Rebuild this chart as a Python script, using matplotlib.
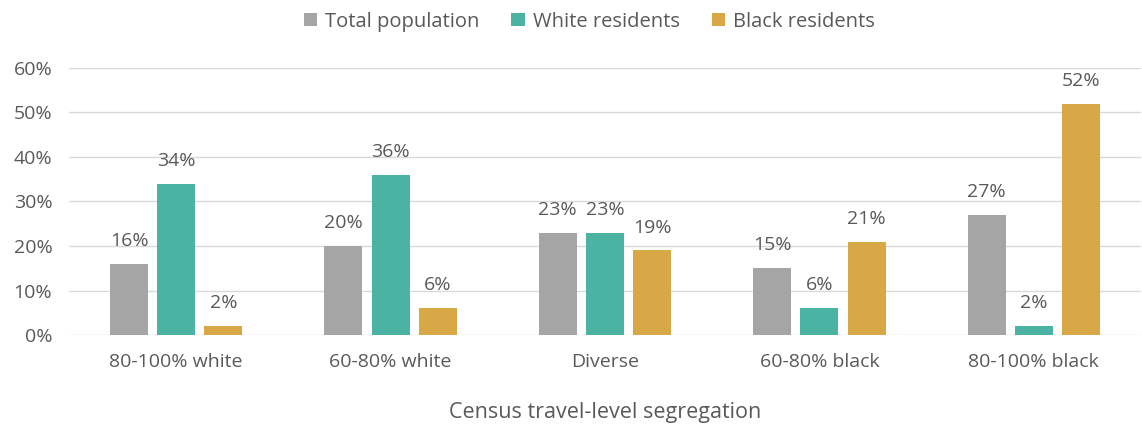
import matplotlib.pyplot as plt
import numpy as np

plt.rcParams["font.family"] = ["Open Sans", "DejaVu Sans"]

categories = ["80-100% white", "60-80% white", "Diverse", "60-80% black", "80-100% black"]
series_names = ["Total population", "White residents", "Black residents"]
total_pop = [16, 20, 23, 15, 27]
white_res = [34, 36, 23, 6, 2]
black_res = [2, 6, 19, 21, 52]
colors = ["#a5a5a5", "#4bb3a3", "#d8a847"]
text_color = "#595959"

fig = plt.figure(figsize=(11.42, 4.33), dpi=100)
ax = fig.add_axes([0.0604, 0.2263, 0.9387, 0.6167])

x = np.arange(len(categories))
width = 0.177
step = 0.22
for i, (vals, name, c) in enumerate(zip([total_pop, white_res, black_res], series_names, colors)):
    pos = x + (i - 1) * step
    ax.bar(pos, np.array(vals) / 100, width, color=c, label=name, zorder=3)
    for p, v in zip(pos, vals):
        ax.annotate(f"{v}%", (p, v / 100), xytext=(0, 10), textcoords="offset points",
                    ha="center", va="bottom", fontsize=14, color=text_color)

ax.set_xlim(-0.5, len(categories) - 0.5)
ax.set_ylim(0, 0.6)
ax.set_yticks(np.arange(0, 0.61, 0.1))
ax.set_yticklabels([f"{int(round(t * 100))}%" for t in np.arange(0, 0.61, 0.1)])
ax.set_xticks(x)
ax.set_xticklabels(categories)
ax.tick_params(axis="both", length=0, labelsize=14, labelcolor=text_color)
ax.tick_params(axis="x", pad=13)
ax.tick_params(axis="y", pad=12)
ax.grid(axis="y", color="#d9d9d9", linewidth=1, zorder=0)
for s in ax.spines.values():
    s.set_visible(False)

ax.set_xlabel("Census travel-level segregation", fontsize=15.5, color=text_color, labelpad=22)

fig.legend(loc="upper center", ncol=3, frameon=False, fontsize=14.5, bbox_to_anchor=(0.516, 1.015),
           handlelength=0.65, handleheight=0.65, handletextpad=0.4, columnspacing=1.6,
           labelcolor=text_color)

plt.savefig("out.png", dpi=100)
